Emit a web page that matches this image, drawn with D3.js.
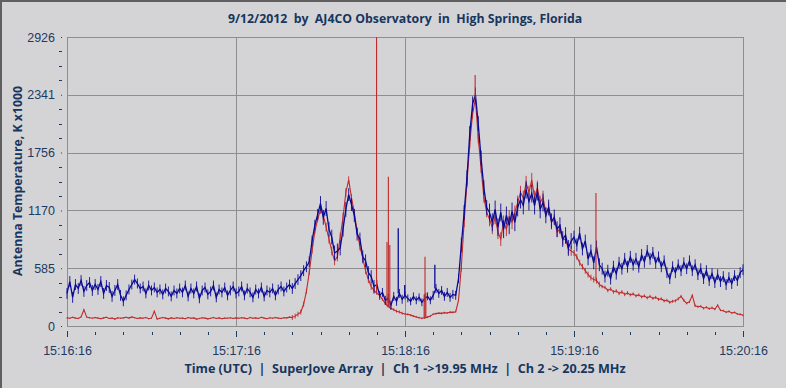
<!DOCTYPE html>
<html lang="en">
<head>
  <meta charset="UTF-8">
  <title>AJ4CO Observatory</title>
  <style>
    body { margin: 0; background: #d4d4d7; }
    svg { display: block; font-family: "Open Sans", sans-serif; }
    .tick text { fill: #1f3a5f; font-size: 12.5px; }
    .ttl { fill: #17365d; font-weight: bold; font-size: 12.3px; white-space: pre; }
    .grid { stroke: #8e8e8e; stroke-width: 1; shape-rendering: crispEdges; }
    .ch1 { fill: none; stroke: #0a0a96; stroke-width: 1.3; }
    .ch2 { fill: none; stroke: #c02a2a; stroke-width: 1.1; }
  </style>
</head>
<body>
<svg id="chart" width="786" height="388"></svg>
<script src="https://d3js.org/d3.v7.min.js"></script>
<script>
// time axis (seconds after 15:16:16)
var xTicks = [0, 60, 120, 180, 240];
var xLabels = ["15:16:16", "15:17:16", "15:18:16", "15:19:16", "15:20:16"];
var yTicks = [0, 585, 1170, 1756, 2341, 2926];

// Ch 1 (19.95 MHz), one reading per second
var ch1 = [
  330, 450, 290, 420, 380, 460, 350, 410, 440, 360, 420,
  370, 450, 330, 410, 390, 300, 360, 420, 310,
  250, 310, 370, 420, 470,
  430, 380, 400, 330, 410, 360, 390, 340, 370, 320, 380, 350, 300, 360, 330, 380,
  340, 410, 300, 380, 330, 400, 280, 360, 390, 320, 350, 410, 290, 370, 340, 390, 310, 360, 400, 330,
  350, 400, 310, 380, 340, 290, 370, 330, 390, 300, 360, 340, 380, 310, 370, 400, 350, 390, 420, 380,
  430, 470, 510, 560, 600, 650, 860, 1020, 1130, 1240,
  1100, 1190, 980, 900, 740, 760, 790, 980, 1180, 1330,
  1230, 1120, 930, 880, 700, 660, 540, 500, 400, 420,
  310, 340, 260, 280, 210, 300, 250, 330, 270, 310,
  280, 250, 300, 260, 290, 240, 280, 300, 260, 310,
  380, 330, 360, 300, 340, 290, 320, 310,
  480, 820, 1150, 1500, 1950, 2250, 2340, 2050, 1700, 1400, 1200, 1150,
  1050, 1180, 1000, 1150, 980, 1120, 1020, 1160, 1050, 1200,
  1280, 1220, 1380, 1260, 1340, 1220, 1360, 1180, 1250, 1120,
  1200, 1060, 1100, 980, 1020, 880, 920, 790, 860, 900,
  820, 940, 780, 860, 680, 760, 640, 800, 620, 580,
  500, 560, 480, 600, 530, 640, 580, 680, 600, 700,
  620, 680, 600, 720, 650, 760, 680, 740, 640, 700,
  600, 660, 540, 480, 600, 540, 620, 560, 640, 580,
  660, 560, 620, 520, 580, 480, 560, 460, 530, 440,
  520, 450, 500, 420, 490, 430, 510, 460, 540, 570
];

// Ch 2 (20.25 MHz)
var ch2 = [
  82, 78, 88, 80, 76, 92, 165, 90, 84, 78, 86, 80, 74, 82, 88, 76, 80, 70, 84, 78, 82,
  88, 80, 92, 84, 76, 82, 78, 86, 74, 80, 150, 70, 78, 86, 80, 72, 82, 76, 84, 78,
  80, 74, 86, 78, 82, 70, 76, 84, 80, 72, 78, 86, 76, 82, 74, 80, 78, 84, 76, 82,
  78, 84, 80, 74, 86, 78, 82, 76, 88, 80, 74, 84, 78, 86, 80, 76, 84, 82, 90, 86,
  100, 120, 140, 220, 350, 540, 760, 960, 1080, 1180,
  1120, 1000, 880, 760, 660, 700, 900, 1100, 1350, 1480,
  1300, 1150, 960, 800, 690, 560, 470, 400, 360, 330,
  310, 270, 230, 200, 180, 165, 150, 142, 130, 122,
  118, 110, 100, 92, 84, 78, 82, 90, 100, 120,
  125, 130, 128, 135, 132, 140, 138, 145,
  260, 600, 1050, 1450, 1850, 2150, 2300, 1900, 1600, 1300, 1150, 1080,
  1000, 1100, 950, 880, 1050, 980, 1100, 1050, 1150, 1250,
  1350, 1300, 1450, 1350, 1480, 1300, 1400, 1250, 1300, 1150,
  1200, 1050, 1080, 950, 980, 870, 880, 780, 760, 740,
  700, 640, 600, 560, 520, 490, 470, 460, 420, 400,
  390, 360, 375, 345, 355, 330, 345, 320, 335, 315,
  325, 305, 315, 295, 305, 285, 300, 280, 290, 270,
  275, 255, 260, 240, 250, 255, 275, 300, 260, 230,
  245, 310, 205, 195, 200, 180, 190, 175, 185, 170,
  210, 160, 155, 140, 148, 132, 138, 122, 118, 108
];

// half-width of the noise band, per 10 s block
var ch1Band = [55, 55, 50, 50, 50, 50, 50, 50, 55, 75, 65, 45, 40, 45, 75, 90, 90, 80, 65, 60, 60, 55, 55, 55];
var ch2Band = [6, 6, 6, 6, 6, 6, 6, 6, 25, 45, 35, 15, 10, 10, 50, 70, 70, 50, 30, 18, 15, 15, 12, 10];

// narrow spikes [seconds, value]
var ch1Spikes = [[117.6, 990], [119.9, 415], [130.6, 620]];
var ch2Spikes = [[109.9, 2926], [113.6, 850], [114.1, 1510], [114.6, 820],
                 [126.8, 320], [127.1, 700], [127.4, 340], [144.9, 2541], [187.8, 1347]];

var svg = d3.select('#chart');
var x = d3.scaleLinear().domain([0, 240]).range([67, 743]);
var y = d3.scaleLinear().domain([0, 2926]).range([326, 37]);

// frame edges
svg.append('rect').attr('width', 786).attr('height', 388).attr('fill', '#d4d4d7');
svg.append('path').attr('d', 'M1,388V1H786').attr('stroke', '#5f5f5f').attr('stroke-width', 2).attr('fill', 'none');

// grid
svg.append('g').selectAll('line').data(yTicks.slice(1, -1)).join('line')
  .attr('class', 'grid').attr('x1', 67).attr('x2', 743)
  .attr('y1', d => Math.round(y(d)) + 0.5).attr('y2', d => Math.round(y(d)) + 0.5);
svg.append('g').selectAll('line').data(xTicks.slice(1, -1)).join('line')
  .attr('class', 'grid').attr('y1', 37).attr('y2', 326)
  .attr('x1', d => Math.round(x(d)) + 0.5).attr('x2', d => Math.round(x(d)) + 0.5);
svg.append('rect').attr('class', 'grid').attr('fill', 'none')
  .attr('x', 67.5).attr('y', 37.5).attr('width', 676).attr('height', 289);

// series: the line through the readings plus a vertical stroke over each second's noise band
var line = d3.line().x((d, i) => x(i)).y(d => y(d));
function series(vals, band, cls) {
  var g = svg.append('g');
  g.append('path').datum(vals).attr('class', cls).attr('d', line);
  g.selectAll('line').data(vals).join('line')
    .attr('class', cls).style('stroke-width', 0.9)
    .attr('x1', (d, i) => x(i)).attr('x2', (d, i) => x(i))
    .attr('y1', (d, i) => y(Math.max(0, d - band[Math.min(Math.floor(i / 10), band.length - 1)])))
    .attr('y2', (d, i) => y(d + band[Math.min(Math.floor(i / 10), band.length - 1)]));
}
series(ch2, ch2Band, 'ch2');
series(ch1, ch1Band, 'ch1');

function spikes(data, vals, cls) {
  svg.append('g').selectAll('line').data(data).join('line')
    .attr('class', cls)
    .attr('x1', d => x(d[0])).attr('x2', d => x(d[0]))
    .attr('y1', d => y(vals[Math.round(d[0])])).attr('y2', d => y(d[1]));
}
spikes(ch1Spikes, ch1, 'ch1');
spikes(ch2Spikes, ch2, 'ch2');

// y axis
var yAxis = svg.append('g').attr('transform', 'translate(62,0)')
  .call(d3.axisLeft(y).tickValues(yTicks).tickFormat(d3.format('d')).tickSize(1).tickPadding(6));
yAxis.select('.domain').remove();
yAxis.selectAll('.tick line').attr('stroke', '#1f3a5f');
var yMinor = [];
for (var k = 0; k < yTicks.length - 1; k++)
  for (var m = 1; m < 4; m++) yMinor.push(yTicks[k] + (yTicks[k + 1] - yTicks[k]) * m / 4);
svg.append('g').selectAll('line').data(yMinor).join('line')
  .attr('x1', 59).attr('x2', 62).attr('y1', d => Math.round(y(d)) + 0.5).attr('y2', d => Math.round(y(d)) + 0.5)
  .attr('stroke', '#1f3a5f');

// x axis
var xAxis = svg.append('g').attr('transform', 'translate(0,331)')
  .call(d3.axisBottom(x).tickValues(xTicks).tickFormat((d, i) => xLabels[i]).tickSize(6).tickPadding(9));
xAxis.select('.domain').remove();
xAxis.selectAll('.tick line').attr('stroke', '#1f3a5f');
svg.append('g').selectAll('line').data(d3.range(10, 240, 10).filter(d => d % 60)).join('line')
  .attr('x1', d => Math.round(x(d)) + 0.5).attr('x2', d => Math.round(x(d)) + 0.5)
  .attr('y1', 332).attr('y2', 335).attr('stroke', '#1f3a5f');

// titles
svg.append('text').attr('class', 'ttl').attr('x', 405).attr('y', 23).attr('text-anchor', 'middle')
  .text('9/12/2012  by  AJ4CO Observatory  in  High Springs, Florida');
svg.append('text').attr('class', 'ttl').attr('x', 405).attr('y', 373).attr('text-anchor', 'middle')
  .style('font-size', '12.6px')
  .text('Time (UTC)  |  SuperJove Array  |  Ch 1 ->19.95 MHz  |  Ch 2 -> 20.25 MHz');
svg.append('text').attr('class', 'ttl').attr('text-anchor', 'middle')
  .attr('transform', 'translate(22,181) rotate(-90)')
  .text('Antenna Temperature, K x1000');
</script>
</body>
</html>
